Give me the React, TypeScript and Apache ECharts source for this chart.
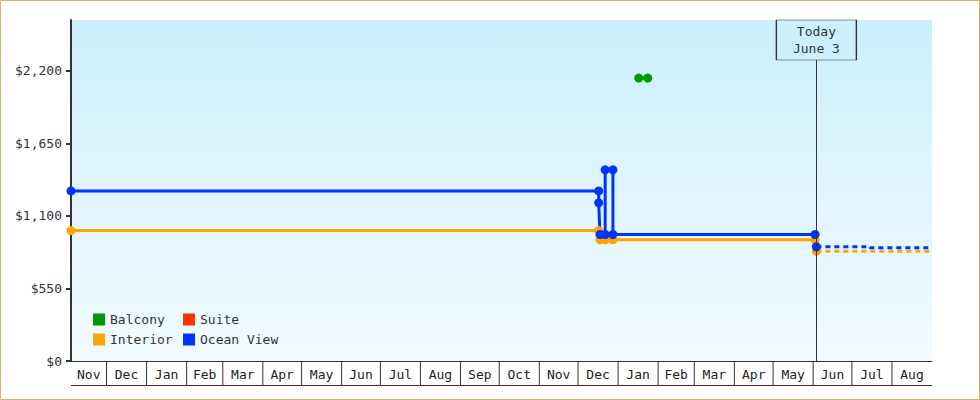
import { useEffect, useRef } from 'react';
import * as echarts from 'echarts';

const mono = '"DejaVu Sans Mono", monospace';
const t = (s: string) => echarts.time.parse(s).getTime();

const axisStart = '2016-11-03 12:00';
const axisEnd = '2018-09-01';
const today = '2018-06-03 12:00';
const yMax = 2585;
const yTicks = [0, 550, 1100, 1650, 2200];

const monthLabels = [
  'Nov', 'Dec', 'Jan', 'Feb', 'Mar', 'Apr', 'May', 'Jun', 'Jul', 'Aug', 'Sep',
  'Oct', 'Nov', 'Dec', 'Jan', 'Feb', 'Mar', 'Apr', 'May', 'Jun', 'Jul', 'Aug',
];
const monthStarts = [
  axisStart, '2016-12-01', '2017-01-01', '2017-02-01', '2017-03-01', '2017-04-01',
  '2017-05-01', '2017-06-01', '2017-07-01', '2017-08-01', '2017-09-01', '2017-10-01',
  '2017-11-01', '2017-12-01', '2018-01-01', '2018-02-01', '2018-03-01', '2018-04-01',
  '2018-05-01', '2018-06-01', '2018-07-01', '2018-08-01',
];

const balcony: [string, number][] = [
  ['2018-01-17', 2145],
  ['2018-01-24', 2145],
];
const suite: [string, number][] = [];
const interior: [string, number][] = [
  [axisStart, 989],
  ['2017-12-17', 989],
  ['2017-12-18', 919],
  ['2017-12-22', 919],
  ['2017-12-28', 919],
  ['2018-06-02 12:00', 919],
  [today, 832],
];
const interiorForecast: [string, number][] = [
  [today, 832],
  [axisEnd, 832],
];
const oceanView: [string, number][] = [
  [axisStart, 1289],
  ['2017-12-17', 1289],
  ['2017-12-17', 1199],
  ['2017-12-18', 959],
  ['2017-12-22', 959],
  ['2017-12-22', 1449],
  ['2017-12-28', 1449],
  ['2017-12-28', 959],
  ['2018-06-02 12:00', 959],
  [today, 866],
];
const oceanViewForecast: [string, number][] = [
  [today, 866],
  ['2018-07-15', 866],
  ['2018-07-15', 858],
  [axisEnd, 858],
];

const toPoints = (rows: [string, number][]) => rows.map(([d, v]) => [t(d), v]);

const solidLine = (name: string, color: string, rows: [string, number][]) => ({
  name,
  type: 'line',
  data: toPoints(rows),
  color,
  symbol: 'circle',
  symbolSize: 9,
  clip: false,
  silent: true,
  lineStyle: { width: 3, color },
  itemStyle: { color },
});

const dashedLine = (name: string, color: string, rows: [string, number][]) => ({
  name,
  type: 'line',
  data: toPoints(rows),
  color,
  symbol: 'none',
  silent: true,
  lineStyle: { width: 3, color, type: [5, 4] },
});

export default function App() {
  const chartRef = useRef<HTMLDivElement | null>(null);

  useEffect(() => {
    document.body.style.margin = '0';
    if (!chartRef.current) return;
    const chart = echarts.init(chartRef.current, undefined, { renderer: 'svg' });

    const monthCells = monthStarts.map((s, i) => [
      t(s),
      t(i + 1 < monthStarts.length ? monthStarts[i + 1] : axisEnd),
    ]);

    const legendBase = {
      orient: 'vertical',
      top: 313,
      padding: 0,
      itemWidth: 12,
      itemHeight: 12,
      itemGap: 7,
      icon: 'rect',
      selectedMode: false,
      textStyle: { fontFamily: mono, fontSize: 13, color: '#333' },
    };

    chart.setOption({
      animation: false,
      backgroundColor: '#fff',
      grid: {
        left: 71,
        right: 48,
        top: 20,
        bottom: 39,
        show: true,
        borderWidth: 0,
        backgroundColor: new echarts.graphic.LinearGradient(0, 0, 0, 1, [
          { offset: 0, color: '#cbeffd' },
          { offset: 1, color: '#f3fbff' },
        ]),
      },
      legend: [
        { ...legendBase, left: 93, data: ['Balcony', 'Interior'] },
        { ...legendBase, left: 183, data: ['Suite', 'Ocean View'] },
      ],
      xAxis: {
        type: 'time',
        min: t(axisStart),
        max: t(axisEnd),
        axisLine: { show: true, lineStyle: { color: '#333', width: 1 } },
        axisTick: { show: false },
        axisLabel: { show: false },
        splitLine: { show: false },
      },
      yAxis: {
        type: 'value',
        min: 0,
        max: yMax,
        interval: 550,
        axisLine: { show: true, lineStyle: { color: '#333', width: 2 } },
        axisTick: { show: true, length: 5, customValues: yTicks, lineStyle: { color: '#333', width: 2 } },
        axisLabel: {
          customValues: yTicks,
          margin: 9,
          fontFamily: mono,
          fontSize: 13,
          color: '#333',
          formatter: (v: number) => '$' + v.toLocaleString('en-US'),
        },
        splitLine: { show: false },
      },
      graphic: [
        {
          type: 'rect',
          z: 100,
          silent: true,
          shape: { x: 0.5, y: 0.5, width: 979, height: 399 },
          style: { fill: 'none', stroke: '#e8aa68', lineWidth: 1 },
        },
      ],
      series: [
        solidLine('Balcony', '#009900', balcony),
        solidLine('Suite', '#ff3300', suite),
        {
          ...solidLine('Interior', '#ffa500', interior),
          markLine: {
            silent: true,
            symbol: ['none', 'none'],
            label: { show: false },
            lineStyle: { color: '#333', width: 1, type: 'solid' },
            data: [{ xAxis: t(today) }],
          },
        },
        solidLine('Ocean View', '#0033ff', oceanView),
        dashedLine('Interior', '#ffa500', interiorForecast),
        {
          ...dashedLine('Ocean View', '#0033ff', oceanViewForecast),
          markPoint: {
            silent: true,
            symbol: 'rect',
            symbolSize: [80, 40],
            symbolOffset: [0, 20],
            itemStyle: { color: '#ccf0fd', borderColor: '#333', borderWidth: 1 },
            label: {
              show: true,
              position: 'inside',
              formatter: 'Today\nJune 3',
              fontFamily: mono,
              fontSize: 13,
              lineHeight: 17,
              color: '#333',
            },
            data: [{ coord: [t(today), yMax] }],
          },
        },
        {
          type: 'custom',
          silent: true,
          clip: false,
          data: monthCells,
          encode: { x: [0, 1] },
          renderItem: (params: any, api: any) => {
            const i = params.dataIndex;
            const a = api.coord([api.value(0), 0]);
            const b = api.coord([api.value(1), 0]);
            const y = a[1];
            const children: any[] = [
              {
                type: 'line',
                shape: { x1: a[0], y1: y + 24.5, x2: b[0], y2: y + 24.5 },
                style: { stroke: '#333', lineWidth: 1 },
              },
              {
                type: 'text',
                style: {
                  text: monthLabels[i],
                  x: (a[0] + b[0]) / 2,
                  y: y + 13,
                  align: 'center',
                  verticalAlign: 'middle',
                  fontFamily: mono,
                  fontSize: 13,
                  fill: '#222',
                },
              },
            ];
            if (i > 0) {
              children.push({
                type: 'line',
                shape: { x1: a[0], y1: y, x2: a[0], y2: y + 24.5 },
                style: { stroke: '#333', lineWidth: 1 },
              });
            }
            return { type: 'group', children };
          },
        },
      ],
    });

    return () => {
      chart.dispose();
    };
  }, []);

  return <div ref={chartRef} style={{ width: 980, height: 400 }} />;
}
